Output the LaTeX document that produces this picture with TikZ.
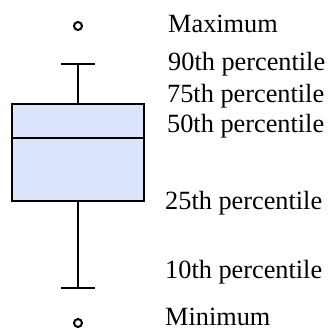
\documentclass[tikz,border=0pt]{standalone}
\usepackage{fontspec}
\setmainfont{Liberation Serif}
\usepackage{tikz}
\definecolor{boxblue}{RGB}{220,228,252}
\tikzset{
  whisker/.style={line width=2pt},
  boxbody/.style={draw, line width=2pt, fill=boxblue, minimum width=132pt, minimum height=97pt, inner sep=0pt},
  outlier/.style={draw, circle, line width=2pt, minimum size=8pt, inner sep=0pt},
  lbl/.style={anchor=base west, inner sep=0pt, font=\fontsize{26.3}{30}\selectfont},
}

\begin{document}
\begin{tikzpicture}[x=1pt, y=-1pt]
  \useasboundingbox (0,0) rectangle (328,330);
  \node [boxbody] (box) at (78,152.5) {};
  \node [outlier] (max) at (78,26) {};
  \node [outlier] (min) at (78,323) {};
  \coordinate (p90) at (78,64);
  \coordinate (p50) at (78,138);
  \coordinate (p10) at (78,288);
  \draw [whisker] (box.north) -- (p90);
  \draw [whisker] ([xshift=-17pt]p90) -- ([xshift=17pt]p90);
  \draw [whisker] (box.south) -- (p10);
  \draw [whisker] ([xshift=-17pt]p10) -- ([xshift=17pt]p10);
  \draw [whisker] (box.west |- p50) -- (box.east |- p50);% median
  \node [lbl] (lmax) at (168,32) {Maximum};
  \node [lbl] (l90) at (168,70) {90th percentile};
  \node [lbl] (l75) at (167,102) {75th percentile};
  \node [lbl] (l50) at (167,132) {50th percentile};
  \node [lbl] (l25) at (165,209) {25th percentile};
  \node [lbl] (l10) at (165,278) {10th percentile};
  \node [lbl] (lmin) at (165,325) {Minimum};
\end{tikzpicture}
\end{document}
